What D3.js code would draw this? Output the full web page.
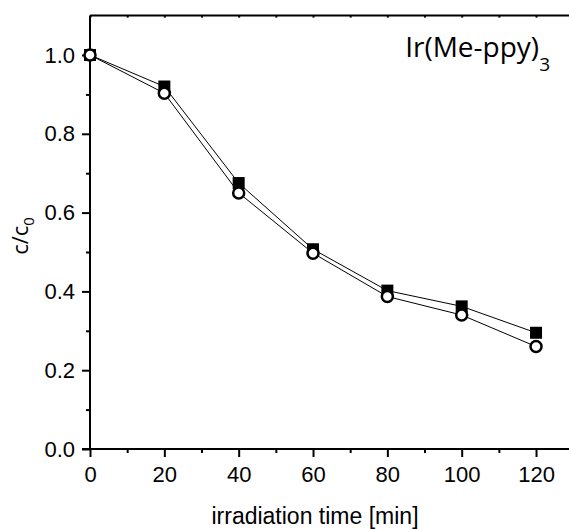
<!DOCTYPE html>
<html><head><meta charset="utf-8">
<script src="https://cdn.jsdelivr.net/npm/d3@7"></script>
<style>body{margin:0;background:#fff}</style>
</head><body>
<svg id="c" width="569" height="530"></svg>
<script>
const times = [0, 20, 40, 60, 80, 100, 120];
const seriesSquare = [1.0, 0.92, 0.675, 0.507, 0.402, 0.362, 0.295];
const seriesCircle = [1.0, 0.903, 0.650, 0.497, 0.387, 0.340, 0.260];
const xTicks = [0, 20, 40, 60, 80, 100, 120];
const yTicks = [0.0, 0.2, 0.4, 0.6, 0.8, 1.0];

const svg = d3.select("#c");
const x = d3.scaleLinear().domain([0, 130]).range([90, 573.2]);
const y = d3.scaleLinear().domain([0, 1.1]).range([449, 15.6]);
const font = "Liberation Sans, Arial, sans-serif";

const xMinor = d3.range(10, 130, 20);
const yMinor = d3.range(0.1, 1.1, 0.2);

const gx = svg.append("g").attr("transform", `translate(0,${y(0)})`)
  .call(d3.axisBottom(x).tickValues(xTicks).tickFormat(d3.format("d")).tickSize(8).tickPadding(9));
gx.select(".domain").attr("d", `M82,0H569`);
const gxm = svg.append("g").attr("transform", `translate(0,${y(0)})`)
  .call(d3.axisBottom(x).tickValues(xMinor).tickFormat("").tickSize(4));
gxm.select(".domain").remove();

const gy = svg.append("g").attr("transform", `translate(${x(0)},0)`)
  .call(d3.axisLeft(y).tickValues(yTicks).tickFormat(d3.format(".1f")).tickSize(8).tickPadding(7));
gy.select(".domain").attr("d", `M0,${y(1.1)}V${y(0)}`);
const gym = svg.append("g").attr("transform", `translate(${x(0)},0)`)
  .call(d3.axisLeft(y).tickValues(yMinor).tickFormat("").tickSize(4));
gym.select(".domain").remove();

const gt = svg.append("g").attr("transform", `translate(0,${y(1.1)})`)
  .call(d3.axisBottom(x).tickValues(d3.range(0, 140, 10)).tickFormat("").tickSize(2));
gt.select(".domain").attr("d", `M${x(0)},0H569`);

svg.selectAll(".domain").attr("stroke", "#000").attr("stroke-width", 2);
svg.selectAll(".tick line").attr("stroke", "#000").attr("stroke-width", 2);
svg.selectAll("g").attr("font-size", null).attr("font-family", null);
svg.selectAll(".tick text").style("font-family", font).style("font-size", "22px").attr("fill", "#000");

const line = d3.line().x((d, i) => x(times[i])).y(d => y(d));
svg.append("path").datum(seriesSquare).attr("d", line).attr("fill", "none").attr("stroke", "#000").attr("stroke-width", 1);
svg.append("path").datum(seriesCircle).attr("d", line).attr("fill", "none").attr("stroke", "#000").attr("stroke-width", 1);

const s = 12;
svg.selectAll("rect.sq").data(seriesSquare).enter().append("rect")
  .attr("x", (d, i) => x(times[i]) - s / 2).attr("y", d => y(d) - s / 2)
  .attr("width", s).attr("height", s).attr("fill", "#000");
svg.selectAll("circle.ci").data(seriesCircle).enter().append("circle")
  .attr("cx", (d, i) => x(times[i])).attr("cy", d => y(d)).attr("r", 5.5)
  .attr("fill", "#fff").attr("stroke", "#000").attr("stroke-width", 2.5);

svg.append("text").attr("x", 315).attr("y", 524).attr("text-anchor", "middle")
  .style("font-family", font).style("font-size", "23px").text("irradiation time [min]");
const yl = svg.append("text").attr("transform", "translate(28,236) rotate(-90)").attr("text-anchor", "middle")
  .style("font-family", "Open Sans, Noto Sans, sans-serif").style("font-size", "22px");
yl.append("tspan").text("c/c");
yl.append("tspan").style("font-size", "15px").attr("dy", 6).text("0");

const lab = svg.append("text").attr("x", 550).attr("y", 57).attr("text-anchor", "end")
  .style("font-family", "Open Sans, Noto Sans, sans-serif").style("font-size", "28px");
lab.append("tspan").text("Ir(Me-ppy)");
lab.append("tspan").style("font-size", "19px").attr("dy", 14).text("3");
</script>
</body></html>
